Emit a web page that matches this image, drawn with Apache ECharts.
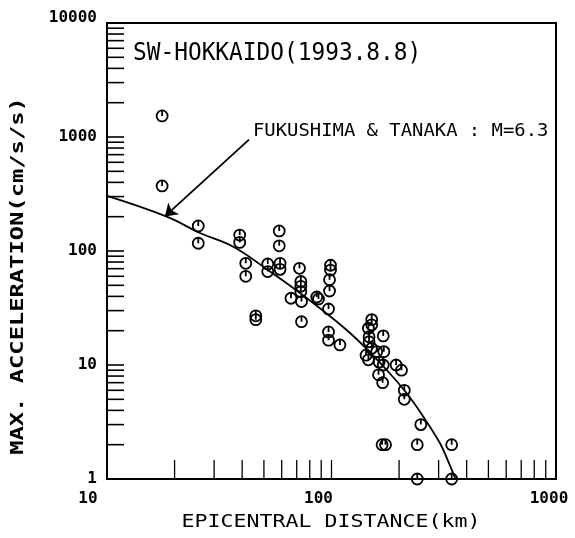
<!DOCTYPE html>
<html>
<head>
<meta charset="utf-8">
<script src="https://cdn.jsdelivr.net/npm/echarts@6/dist/echarts.min.js"></script>
<style>
  html, body { margin: 0; padding: 0; background: #fff; }
  #chart { width: 575px; height: 538px; }
</style>
</head>
<body>
<div id="chart"></div>
<script>
// Observed peak accelerations: epicentral distance (km) and acceleration (cm/s/s)
const distanceKm = [
  17.6, 17.6, 25.5, 25.5, 39, 39, 41.5, 41.5, 46, 46,
  52, 52, 58.5, 58.5, 59, 59, 66, 72, 73, 73,
  73, 73.5, 73.5, 86, 87.5, 99, 99, 98, 98, 97,
  97, 97, 109, 151, 151, 146, 147, 151, 147, 170,
  142.5, 146, 159, 171, 163, 170, 194, 205, 162, 169,
  211, 211, 250, 168, 174, 241, 343, 241, 343
];
const accelGal = [
  1530, 372, 166, 117, 138, 119, 78, 60, 27, 25,
  77, 66, 150, 111, 78, 69, 38.5, 70.5, 54, 49,
  44, 36, 24, 39.5, 38, 75, 68, 56, 44.6, 31,
  19.5, 16.5, 15, 25, 22.5, 21, 17.7, 14, 16, 18,
  12.2, 11.1, 13.1, 13.1, 10.6, 10, 10, 9, 8.2, 7,
  6, 5, 3, 2, 2, 2, 2, 1, 1
];

// Fukushima & Tanaka attenuation curve for M = 6.3
const curveDistance = [10, 18.45, 25.96, 36.5, 50.6, 72.4, 120.9, 176.1, 216.3, 256.4, 304.3, 330, 356.6];
const curveAccel    = [304, 200, 144, 109, 71, 42.8, 19.1, 9.04, 5.65, 3.52, 2.06, 1.45, 1.0];

// Inner tick marks of the logarithmic axes
const xTickValues = [20, 30, 40, 50, 60, 70, 80, 90, 100, 200, 300, 400, 500, 600, 700, 800, 900];
const yTickValues = [
  2, 3, 4, 5, 6, 7, 8, 9, 10,
  20, 30, 40, 50, 60, 70, 80, 90, 100,
  200, 300, 400, 500, 600, 700, 800, 900, 1000,
  2000, 3000, 4000, 5000, 6000, 7000, 8000, 9000
];

// Annotation arrow (from label towards the curve), in data units
const arrowFrom = [42.9, 950];
const arrowTo = [18.1, 201];

const titleText = 'SW-HOKKAIDO(1993.8.8)';
const curveLabel = 'FUKUSHIMA & TANAKA : M=6.3';
const xName = 'EPICENTRAL DISTANCE(km)';
const yName = 'MAX. ACCELERATION(cm/s/s)';

const MONO = '"DejaVu Sans Mono", "Liberation Mono", monospace';

const chart = echarts.init(document.getElementById('chart'), null, { renderer: 'canvas' });

const scatterData = distanceKm.map((d, i) => [d, accelGal[i]]);
const curveData = curveDistance.map((d, i) => [d, curveAccel[i]]);

// open circle with a short stroke from its top down to the centre
const markerPath = 'path://M0,5 A5,5 0 1,1 10,5 A5,5 0 1,1 0,5 Z M5,0 L5,5';

chart.setOption({
  animation: false,
  backgroundColor: '#fff',
  grid: {
    left: 107, right: 19, top: 23, bottom: 59,
    show: true, borderColor: '#000', borderWidth: 2, backgroundColor: 'transparent'
  },
  xAxis: {
    type: 'log', logBase: 10, min: 10, max: 1000, interval: 1,
    axisLine: { show: false }, axisTick: { show: false }, splitLine: { show: false },
    minorTick: { show: false },
    axisLabel: {
      margin: 12, color: '#000',
      fontFamily: MONO, fontSize: 16, fontWeight: 'bold',
      formatter: function (v) {
        if (v === 10) return '{a|10}';
        if (v === 100) return '{b|100}';
        return '{c|' + v + '}';
      },
      rich: {
        a: { padding: [0, 38, 0, 0], fontFamily: MONO, fontSize: 16, fontWeight: 'bold' },
        b: { padding: [0, 26, 0, 0], fontFamily: MONO, fontSize: 16, fontWeight: 'bold' },
        c: { padding: [0, 14, 0, 0], fontFamily: MONO, fontSize: 16, fontWeight: 'bold' }
      }
    }
  },
  yAxis: {
    type: 'log', logBase: 10, min: 1, max: 10000, interval: 1,
    axisLine: { show: false }, axisTick: { show: false }, splitLine: { show: false },
    minorTick: { show: false },
    axisLabel: {
      margin: 10, color: '#000',
      fontFamily: MONO, fontSize: 16, fontWeight: 'bold',
      formatter: function (v) {
        if (v === 10000) return '{t|' + v + '}';
        return '{n|' + v + '}';
      },
      rich: {
        t: { padding: [0, 0, 10, 0], fontFamily: MONO, fontSize: 16, fontWeight: 'bold' },
        n: { fontFamily: MONO, fontSize: 16, fontWeight: 'bold' }
      }
    }
  },
  graphic: [
    {
      type: 'text', x: 133, y: 54, scaleX: 0.95,
      style: { text: titleText, font: '24px ' + MONO, fill: '#000', align: 'left', verticalAlign: 'middle' }
    },
    {
      type: 'text', x: 253, y: 132, scaleX: 1.11,
      style: { text: curveLabel, font: '17px ' + MONO, fill: '#000', align: 'left', verticalAlign: 'middle' }
    },
    {
      type: 'text', x: 331, y: 523, scaleX: 1.27,
      style: { text: xName, font: '17px ' + MONO, fill: '#000', align: 'center', verticalAlign: 'middle' }
    },
    {
      type: 'text', x: 18, y: 276, rotation: Math.PI / 2, scaleX: 1.32,
      style: { text: yName, font: 'bold 18px ' + MONO, fill: '#000', align: 'center', verticalAlign: 'middle' }
    }
  ],
  series: [
    {
      type: 'custom',
      name: 'xTicks',
      silent: true,
      data: xTickValues.map(v => [v, 1]),
      renderItem: function (params, api) {
        const p = api.coord([api.value(0), api.value(1)]);
        return {
          type: 'line',
          shape: { x1: p[0], y1: p[1], x2: p[0], y2: p[1] - 19 },
          style: { stroke: '#000', lineWidth: 1.3 }
        };
      }
    },
    {
      type: 'custom',
      name: 'yTicks',
      silent: true,
      data: yTickValues.map(v => [10, v]),
      renderItem: function (params, api) {
        const p = api.coord([api.value(0), api.value(1)]);
        return {
          type: 'line',
          shape: { x1: p[0], y1: p[1], x2: p[0] + 17, y2: p[1] },
          style: { stroke: '#000', lineWidth: 1.6 }
        };
      }
    },
    {
      type: 'line',
      name: 'Fukushima & Tanaka',
      data: curveData,
      smooth: 0.4,
      showSymbol: false,
      symbol: 'none',
      lineStyle: { color: '#000', width: 1.8 },
      markLine: {
        silent: true,
        symbol: ['none', 'arrow'],
        symbolSize: 12,
        label: { show: false },
        lineStyle: { color: '#000', width: 1.8, type: 'solid' },
        itemStyle: { color: '#000' },
        data: [[{ coord: arrowFrom }, { coord: arrowTo }]]
      }
    },
    {
      type: 'scatter',
      name: 'Observed',
      data: scatterData,
      symbol: markerPath,
      symbolSize: 11,
      symbolKeepAspect: true,
      itemStyle: { color: 'rgba(0,0,0,0)', borderColor: '#000', borderWidth: 1.8, opacity: 1 }
    }
  ]
});
</script>
</body>
</html>
